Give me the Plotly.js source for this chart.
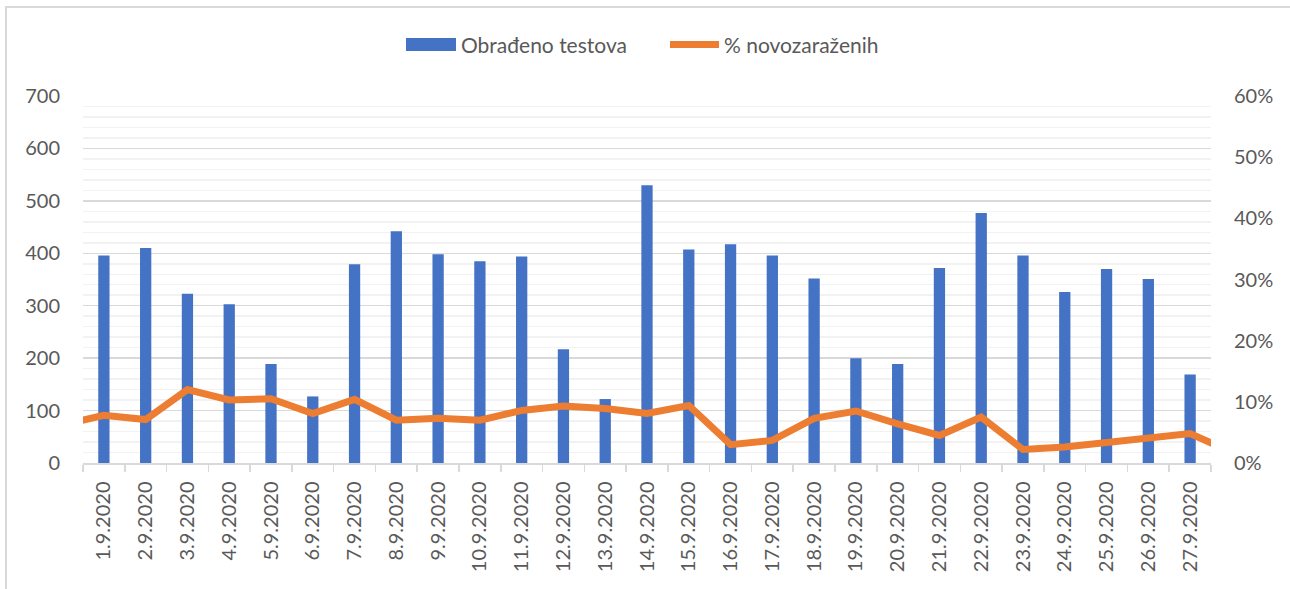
<!DOCTYPE html>
<html>
<head>
<meta charset="utf-8">
<script src="https://cdn.plot.ly/plotly-3.0.1.min.js"></script>
<style>
  html, body { margin: 0; padding: 0; background: #fff; overflow: hidden; }
  #chart { width: 1290px; height: 589px; }
  #frame { position: absolute; left: 5px; top: 6px; width: 1310px; height: 610px;
           border: 2px solid #d9d9d9; pointer-events: none; box-sizing: border-box; }
</style>
</head>
<body>
<div id="chart"></div>
<div id="frame"></div>
<script>
// Categories (dates)
const dates = ["1.9.2020","2.9.2020","3.9.2020","4.9.2020","5.9.2020","6.9.2020","7.9.2020",
  "8.9.2020","9.9.2020","10.9.2020","11.9.2020","12.9.2020","13.9.2020","14.9.2020",
  "15.9.2020","16.9.2020","17.9.2020","18.9.2020","19.9.2020","20.9.2020","21.9.2020",
  "22.9.2020","23.9.2020","24.9.2020","25.9.2020","26.9.2020","27.9.2020"];

// Obrađeno testova (bars)
const tests = [396, 410, 323, 303, 189, 127, 379, 442, 398, 385, 394, 217, 122, 530,
  407, 417, 396, 352, 200, 189, 372, 477, 396, 326, 370, 351, 169];

// % novozaraženih (line), as fractions
const pct = [0.078, 0.071, 0.120, 0.103, 0.105, 0.081, 0.104, 0.070, 0.073, 0.070,
  0.086, 0.093, 0.089, 0.081, 0.094, 0.030, 0.037, 0.073, 0.085, 0.064, 0.045,
  0.075, 0.022, 0.026, 0.034, 0.040, 0.048];
// neighbouring days whose line segments are clipped at the plot edges
const pctBefore = 0.062;   // 31.8.2020
const pctAfter = 0.018;    // 28.9.2020

// Series names (legend)
const seriesNames = ["Obrađeno testova", "% novozaraženih"];

const idx = dates.map((d, i) => i);
const lineX = [-1].concat(idx, [dates.length]);
const lineY = [pctBefore].concat(pct, [pctAfter]);

const font = "Lato, Calibri, 'Noto Sans', sans-serif";
const grey = "#595959";
const blue = "#4472c4", orange = "#ed7d31";

const traces = [
  {
    type: "bar", name: seriesNames[0], x: idx, y: tests,
    marker: { color: blue }, width: 0.27,
    xaxis: "x", yaxis: "y"
  },
  {
    type: "scatter", mode: "lines", name: seriesNames[1], x: lineX, y: lineY,
    line: { color: orange, width: 7, shape: "linear" },
    xaxis: "x", yaxis: "y2", cliponaxis: true
  }
];

// Manual legend (page-pixel placement converted to paper coords)
const W = 1290, H = 589, mL = 83, mR = 79, mT = 96, mB = 126;
const pw = W - mL - mR, ph = H - mT - mB;
const px = v => (v - mL) / pw;
const py = v => (H - mB - v) / ph;

const layout = {
  width: W, height: H,
  margin: { l: mL, r: mR, t: mT, b: mB },
  paper_bgcolor: "#ffffff", plot_bgcolor: "#ffffff",
  font: { family: font, color: grey, size: 20 },
  showlegend: false,
  xaxis: {
    range: [-0.5, dates.length - 0.5],
    tickmode: "array", tickvals: idx, ticktext: dates,
    tickangle: -90, ticks: "", ticklen: 0,
    tickfont: { size: 20, color: grey, family: font },
    ticklabelstandoff: 9,
    showline: true, linecolor: "#d9d9d9", linewidth: 1.5,
    showgrid: false, zeroline: false, fixedrange: true,
    minor: { tickmode: "linear", tick0: -0.5, dtick: 1, ticks: "outside",
             ticklen: 7, tickcolor: "#d9d9d9", tickwidth: 1.5, showgrid: false }
  },
  yaxis: {
    range: [0, 700], dtick: 100, tick0: 0,
    tickfont: { size: 20, color: grey, family: font },
    ticklabelstandoff: 22,
    showgrid: true, gridcolor: "#d9d9d9", gridwidth: 1.5,
    zeroline: false, showline: false, ticks: "", fixedrange: true,
    minor: { dtick: 20, showgrid: true, gridcolor: "#f2f2f2", gridwidth: 1.5, ticks: "" }
  },
  yaxis2: {
    overlaying: "y", side: "right", anchor: "x",
    range: [0, 0.6], dtick: 0.1, tickformat: ".0%",
    tickfont: { size: 20, color: grey, family: font },
    ticklabelstandoff: 22,
    showgrid: false, zeroline: false, showline: false, ticks: "", fixedrange: true
  },
  shapes: [
    { type: "rect", xref: "paper", yref: "paper",
      x0: px(406), x1: px(456), y0: py(51), y1: py(38),
      fillcolor: blue, line: { width: 0 } },
    { type: "line", xref: "paper", yref: "paper",
      x0: px(670), x1: px(719), y0: py(44.5), y1: py(44.5),
      line: { color: orange, width: 7 } }
  ],
  annotations: [
    { xref: "paper", yref: "paper", x: px(459), y: py(44.5), xanchor: "left", yanchor: "middle",
      text: seriesNames[0], showarrow: false, font: { size: 21, color: grey, family: font } },
    { xref: "paper", yref: "paper", x: px(722), y: py(44.5), xanchor: "left", yanchor: "middle",
      text: seriesNames[1], showarrow: false, font: { size: 21, color: grey, family: font } }
  ]
};

Plotly.newPlot("chart", traces, layout, { displayModeBar: false, staticPlot: true });
</script>
</body>
</html>
